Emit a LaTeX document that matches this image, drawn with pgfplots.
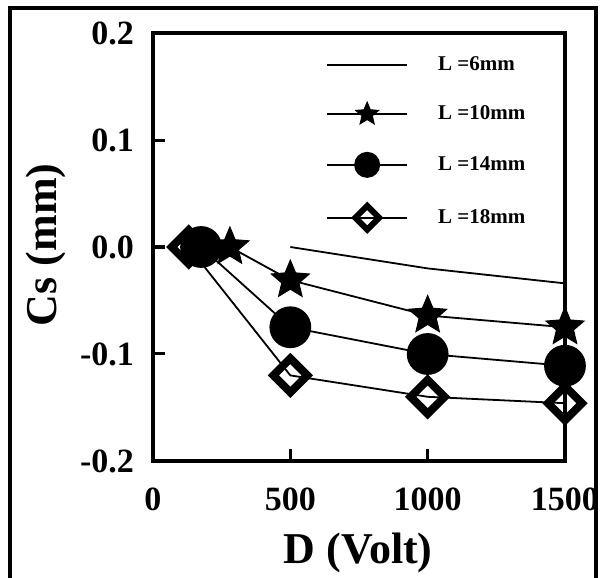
\documentclass[border=0pt]{standalone}
\usepackage{pgfplots}
\pgfplotsset{compat=1.18}
\usepackage{fontspec}
\setmainfont{Liberation Serif}
\usetikzlibrary{plotmarks}

% filled five-pointed star
\pgfdeclareplotmark{fstar}{%
  \pgfpathmoveto{\pgfqpointpolar{90}{\pgfplotmarksize}}%
  \pgfpathlineto{\pgfqpointpolar{126}{0.45\pgfplotmarksize}}%
  \pgfpathlineto{\pgfqpointpolar{162}{\pgfplotmarksize}}%
  \pgfpathlineto{\pgfqpointpolar{198}{0.45\pgfplotmarksize}}%
  \pgfpathlineto{\pgfqpointpolar{234}{\pgfplotmarksize}}%
  \pgfpathlineto{\pgfqpointpolar{270}{0.45\pgfplotmarksize}}%
  \pgfpathlineto{\pgfqpointpolar{306}{\pgfplotmarksize}}%
  \pgfpathlineto{\pgfqpointpolar{342}{0.45\pgfplotmarksize}}%
  \pgfpathlineto{\pgfqpointpolar{18}{\pgfplotmarksize}}%
  \pgfpathlineto{\pgfqpointpolar{54}{0.45\pgfplotmarksize}}%
  \pgfpathclose
  \pgfusepathqfillstroke
}

\pgfplotsset{
  l6/.style={black, line width=0.9pt},
  l10/.style={black, line width=0.9pt, mark=fstar, mark size=10pt, mark options={line width=0.5pt}},
  l14/.style={black, line width=0.9pt, mark=*, mark size=10pt},
  l18/.style={black, line width=0.9pt, mark=square, mark size=6pt,
      mark options={rotate=45, fill=white, line width=4pt}},
}

\begin{document}
\begin{tikzpicture}
\begin{axis}[
    name=a,
    scale only axis,
    width=206pt, height=214pt,
    xmin=0, xmax=1500, ymin=-0.2, ymax=0.2,
    xtick={0,500,1000,1500},
    ytick={-0.2,-0.1,0,0.1,0.2},
    /pgf/number format/1000 sep={},
    /pgf/number format/assume math mode=true,
    tick label style={font=\fontsize{17}{19}\selectfont\bfseries},
    xticklabel style={yshift=-10pt},
    yticklabel style={/pgf/number format/fixed, /pgf/number format/fixed zerofill,
        /pgf/number format/precision=1, xshift=-6pt},
    tick align=inside, major tick length=6pt,
    xtick pos=bottom, ytick pos=left,
    axis line style={line width=2pt},
    every tick/.style={line width=1.5pt, black},
    xlabel={D (Volt)}, ylabel={Cs (mm)},
    label style={font=\fontsize{22}{24}\selectfont\bfseries},
    xlabel style={at={(axis description cs:0.498,-0.215)}, anchor=center},
    ylabel style={at={(axis description cs:-0.26,0.505)}, anchor=center, rotate=0},
    legend style={draw=none, fill=none, at={(0.405,0.956)}, anchor=north west,
        font=\fontsize{10.5}{12}\selectfont\bfseries, row sep=14.5pt,
        nodes={inner sep=0pt},
        /tikz/every odd column/.style={column sep=15pt}},
    legend cell align=left,
    legend image code/.code={
        \draw[#1] (0pt,0pt) -- (40pt,0pt);
        \draw[#1, mark size=0.6*\pgfplotmarksize, line width=1pt] plot coordinates {(20pt,0pt)};
    },
]
\addlegendimage{l6}\addlegendentry{L =6mm}
\addlegendimage{l10}\addlegendentry{L =10mm}
\addlegendimage{l14}\addlegendentry{L =14mm}
\addlegendimage{l18, mark size=7pt, mark options={rotate=45, fill=white, line width=3pt}}\addlegendentry{L =18mm}

\addplot[l6, forget plot] coordinates {(500,0.0) (1000,-0.02) (1500,-0.034)};
\addplot[l18, forget plot] coordinates {(130,0.0) (500,-0.12) (1000,-0.14) (1500,-0.146)};
\addplot[l10, forget plot] coordinates {(280,0.0) (500,-0.031) (1000,-0.064) (1500,-0.075)};
\addplot[l14, forget plot] coordinates {(175,0.0) (500,-0.075) (1000,-0.1) (1500,-0.111)};
\end{axis}
\draw[line width=1.8pt] ([xshift=-71.5pt,yshift=-62pt]a.south west) rectangle ([xshift=15.5pt,yshift=12.5pt]a.north east);
\pgfresetboundingbox
\path ([xshift=-76.5pt,yshift=-58.5pt]a.south west) rectangle ([xshift=18pt,yshift=16.5pt]a.north east);
\end{tikzpicture}
\end{document}
